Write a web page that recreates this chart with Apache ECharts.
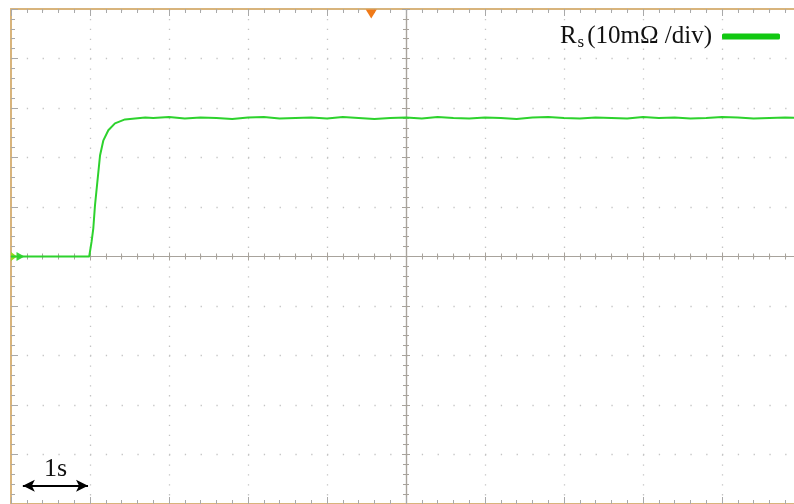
<!DOCTYPE html>
<html>
<head>
<meta charset="utf-8">
<script src="https://cdn.jsdelivr.net/npm/echarts@6/dist/echarts.min.js"></script>
<style>html,body{margin:0;padding:0;background:#fff;}#c{width:794px;height:504px;}</style>
</head>
<body>
<div id="c"></div>
<script>
// time in seconds (1 s / div), Rs in mΩ (10 mΩ / div)
const times = [0, 0.2, 0.4, 0.6, 0.8, 0.99, 1.0, 1.02, 1.042, 1.063, 1.092, 1.127, 1.168, 1.232, 1.316, 1.443, 1.57, 1.7,
  1.8, 2.0, 2.2, 2.4, 2.6, 2.8, 3.0, 3.2, 3.4, 3.6, 3.8, 4.0, 4.2, 4.4, 4.6, 4.8, 5.0, 5.2, 5.4, 5.6, 5.8,
  6.0, 6.2, 6.4, 6.6, 6.8, 7.0, 7.2, 7.4, 7.6, 7.8, 8.0, 8.2, 8.4, 8.6, 8.8, 9.0, 9.2, 9.4, 9.6, 9.8, 10.0];
const rsValues = [0, 0, 0, 0, 0, 0, -0.4, 3.0, 5.7, 10.3, 14.9, 20.4, 23.4, 25.5, 26.9, 27.7, 27.9, 28.1,
  28.0, 28.2, 27.9, 28.1, 28.0, 27.8, 28.1, 28.2, 27.9, 28.0, 28.1, 27.9, 28.2, 28.0, 27.8, 28.0, 28.1, 27.9, 28.2, 28.0, 27.9,
  28.1, 28.0, 27.8, 28.1, 28.2, 28.0, 27.9, 28.1, 28.0, 27.9, 28.2, 28.0, 28.1, 27.9, 28.0, 28.2, 28.1, 27.9, 28.0, 28.1, 28.0];
const seriesName = 'Rs';
const legendText = ['R', 's', '(10mΩ /div)'];
const scaleText = '1s';
const scaleArrow = [[0.15, -46.3], [0.975, -46.3]];
const triggerMarker = [4.56, 50];
const channelMarker = [0.12, 0];

const data = times.map((t, i) => [t, rsValues[i]]);
const green = '#2dd22d';
const border = '#d8b47c';
const tickGray = '#a9a9a9';
const axisGray = '#a8a39c';
const dotGray = '#c4c4c4';
const serif = '"Liberation Serif", "DejaVu Serif", serif';

const chart = echarts.init(document.getElementById('c'), null, {renderer: 'canvas'});

function borderX(pos, split) {
  return {
    type: 'value', gridIndex: 0, position: pos, min: 0, max: 10, interval: 1,
    axisLine: {onZero: false, show: true, lineStyle: {color: border, width: 2}},
    axisTick: {show: true, inside: true, length: 7, lineStyle: {color: tickGray}},
    minorTick: {show: true, splitNumber: 5, length: 4, lineStyle: {color: tickGray}},
    axisLabel: {show: false},
    splitLine: split ? {show: true, lineStyle: {color: dotGray, width: 1.3, type: [1.3, 8.6]}} : {show: false},
    minorSplitLine: {show: false}
  };
}
function borderY(pos, split) {
  return {
    type: 'value', gridIndex: 0, position: pos, min: -50, max: 50, interval: 10,
    axisLine: {onZero: false, show: true, lineStyle: {color: border, width: 2}},
    axisTick: {show: true, inside: true, length: 7, lineStyle: {color: tickGray}},
    minorTick: {show: true, splitNumber: 5, length: 4, lineStyle: {color: tickGray}},
    axisLabel: {show: false},
    splitLine: split ? {show: true, lineStyle: {color: dotGray, width: 1.3, type: [1.3, 14.5]}} : {show: false}
  };
}
function centerX(pos) {
  return {
    type: 'value', gridIndex: 1, position: pos, min: -5, max: 5, interval: 1,
    axisLine: {onZero: true, show: true, lineStyle: {color: axisGray, width: 1.2}},
    axisTick: {show: true, inside: false, length: 4, lineStyle: {color: axisGray}},
    minorTick: {show: true, splitNumber: 5, length: 3, lineStyle: {color: axisGray}},
    axisLabel: {show: false}, splitLine: {show: false}
  };
}
function centerY(pos) {
  return {
    type: 'value', gridIndex: 1, position: pos, min: -50, max: 50, interval: 10,
    axisLine: {onZero: true, show: true, lineStyle: {color: axisGray, width: 1.2}},
    axisTick: {show: true, inside: false, length: 4, lineStyle: {color: axisGray}},
    minorTick: {show: true, splitNumber: 5, length: 3, lineStyle: {color: axisGray}},
    axisLabel: {show: false}, splitLine: {show: false}
  };
}

const gridBox = {left: 11, top: 9, width: 790, height: 495, containLabel: false, outerBoundsMode: 'none'};

chart.setOption({
  animation: false,
  backgroundColor: '#ffffff',
  grid: [Object.assign({}, gridBox), Object.assign({}, gridBox)],
  xAxis: [borderX('bottom', true), borderX('top', false), centerX('bottom'), centerX('top')],
  yAxis: [borderY('left', true), borderY('right', false), centerY('left'), centerY('right')],
  legend: {
    right: 14, top: 24, padding: 0, align: 'right', icon: 'roundRect', itemWidth: 58, itemHeight: 6, itemGap: 0,
    data: [{name: seriesName, itemStyle: {color: '#11c811'}}],
    formatter: () => '{r|' + legendText[0] + '}{s|' + legendText[1] + '}{t|' + legendText[2] + '}',
    textStyle: {
      rich: {
        r: {fontFamily: serif, fontSize: 25, color: '#111', lineHeight: 30, verticalAlign: 'middle'},
        t: {fontFamily: serif, fontSize: 25, color: '#111', lineHeight: 30, verticalAlign: 'middle', padding: [0, 5, 0, 0]},
        s: {fontFamily: serif, fontSize: 17, color: '#111', lineHeight: 14, verticalAlign: 'bottom', padding: [0, 3, 0, 1]}
      }
    }
  },
  series: [{
    name: seriesName, type: 'line', xAxisIndex: 0, yAxisIndex: 0, z: 10,
    data: data, showSymbol: false, symbol: 'none',
    lineStyle: {color: green, width: 2}, itemStyle: {color: green},
    markPoint: {
      silent: true, label: {show: false},
      data: [
        {coord: triggerMarker, symbol: 'triangle', symbolRotate: 180, symbolSize: [11, 9], symbolOffset: [0, 5], itemStyle: {color: '#f07a18'}},
        {coord: channelMarker, symbol: 'triangle', symbolRotate: -90, symbolSize: [9, 8], itemStyle: {color: '#3cd23c'}},
        {coord: [0, 0], symbol: 'triangle', symbolRotate: -90, symbolSize: [9, 6], symbolOffset: [3, 0], itemStyle: {color: '#9ad81e'}}
      ]
    },
    markLine: {
      silent: true, symbol: ['arrow', 'arrow'], symbolSize: [9, 12],
      lineStyle: {color: '#000', width: 2, type: 'solid'},
      label: {show: true, position: 'middle', formatter: scaleText, fontFamily: serif, fontSize: 26, color: '#111', distance: 4},
      data: [[{coord: scaleArrow[0]}, {coord: scaleArrow[1]}]]
    }
  }]
});
</script>
</body>
</html>
